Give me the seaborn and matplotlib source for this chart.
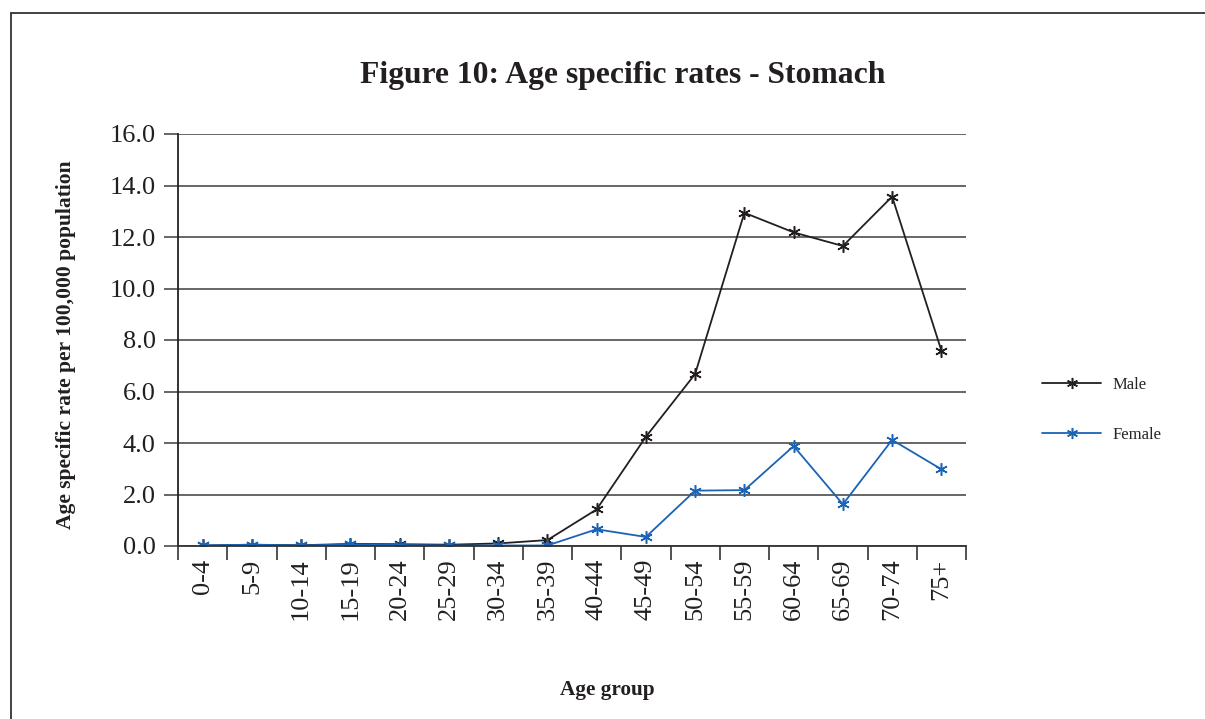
import matplotlib
matplotlib.use("Agg")
import matplotlib.pyplot as plt
import seaborn as sns
import pandas as pd
from matplotlib.lines import Line2D

age_groups = ["0-4", "5-9", "10-14", "15-19", "20-24", "25-29", "30-34", "35-39",
              "40-44", "45-49", "50-54", "55-59", "60-64", "65-69", "70-74", "75+"]
male = [0.02, 0.05, 0.03, 0.08, 0.07, 0.05, 0.10, 0.23,
        1.42, 4.24, 6.68, 12.94, 12.18, 11.65, 13.57, 7.59]
female = [0.02, 0.05, 0.02, 0.06, 0.04, 0.02, 0.02, 0.02,
          0.65, 0.35, 2.15, 2.17, 3.88, 1.62, 4.12, 2.98]
series_names = ["Male", "Female"]
y_ticks = [0, 2, 4, 6, 8, 10, 12, 14, 16]

df = pd.DataFrame({
    "Age group": age_groups * 2,
    "Rate": male + female,
    "Sex": ["Male"] * len(age_groups) + ["Female"] * len(age_groups),
})

sns.set_theme(style="white")
plt.rcParams["font.family"] = ["Liberation Serif", "DejaVu Serif"]

fig = plt.figure(figsize=(12.05, 7.19), dpi=100)
ax = fig.add_axes([178 / 1205, 1 - 546 / 719, (966 - 178) / 1205, (546 - 134) / 719])

palette = {"Male": "#231f20", "Female": "#1a63b5"}
asterisk = (6, 2, 0)
sns.lineplot(data=df, x="Age group", y="Rate", hue="Sex", hue_order=series_names,
             palette=palette, marker=asterisk, markersize=9, markeredgewidth=1.1,
             linewidth=1.3, ax=ax, sort=False, legend=False)
for line in ax.lines:
    line.set_markeredgecolor(line.get_color())

ax.set_xlim(-0.5, len(age_groups) - 0.5)
ax.set_ylim(0, 16)
ax.set_yticks(y_ticks)
ax.set_yticklabels([f"{v:.1f}" for v in y_ticks], fontsize=19, color="#231f20")
ax.yaxis.grid(True, color="#4d4d4d", linewidth=1.2)
ax.xaxis.grid(False)
ax.set_axisbelow(True)

ax.set_xticks(range(len(age_groups)))
ax.set_xticklabels(age_groups, rotation=90, fontsize=19, color="#231f20")
ax.set_xticks([i - 0.5 for i in range(len(age_groups) + 1)], minor=True)
ax.tick_params(axis="x", which="major", length=0, pad=9)
ax.tick_params(axis="x", which="minor", length=10, width=1.2, color="#333333",
               direction="out", bottom=True)
ax.tick_params(axis="y", which="major", length=10, width=1.2, color="#4d4d4d",
               direction="out", left=True, pad=6)

for side in ["top", "right"]:
    ax.spines[side].set_visible(False)
ax.spines["left"].set_color("#222222")
ax.spines["left"].set_linewidth(1.3)
ax.spines["bottom"].set_color("#333333")
ax.spines["bottom"].set_linewidth(1.3)

ax.set_xlabel("")
ax.set_ylabel("")

fig.text(623 / 1205, 1 - 75 / 719, "Figure 10: Age specific rates - Stomach",
         ha="center", va="center", fontsize=22.8, fontweight="bold", color="#231f20")
fig.text(66 / 1205, 1 - 345 / 719, "Age specific rate per 100,000 population",
         ha="center", va="center", rotation=90, fontsize=15.5, fontweight="bold",
         color="#231f20")
fig.text(607 / 1205, 1 - 690 / 719, "Age group",
         ha="center", va="center", fontsize=15.3, fontweight="bold", color="#231f20")

handles = [Line2D([], [], color=palette[n], marker=asterisk, markersize=8,
                  markeredgewidth=1.1, markeredgecolor=palette[n], linewidth=1.3)
           for n in series_names]
fig.legend(handles, series_names, loc="center left",
           bbox_to_anchor=(1027 / 1205, 1 - 410 / 719), frameon=False,
           fontsize=12, handlelength=3.55, labelspacing=2.05, handletextpad=0.7)

# outer frame (left and top edges visible)
fig.add_artist(Line2D([11 / 1205, 11 / 1205], [0, 1 - 13 / 719],
                      transform=fig.transFigure, color="#333333", linewidth=1.3))
fig.add_artist(Line2D([11 / 1205, 1], [1 - 13 / 719, 1 - 13 / 719],
                      transform=fig.transFigure, color="#333333", linewidth=1.3))

fig.savefig("out.png", dpi=100)
